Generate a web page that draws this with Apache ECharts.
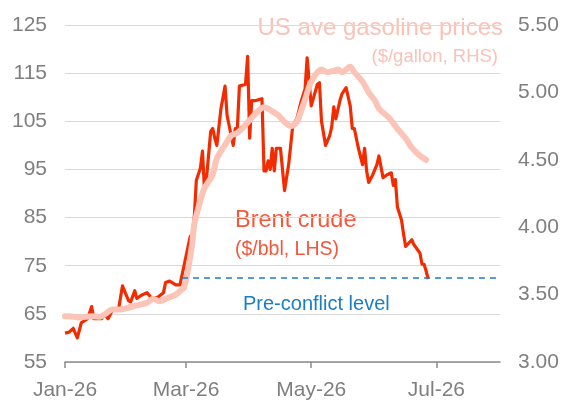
<!DOCTYPE html>
<html>
<head>
<meta charset="utf-8">
<script src="https://cdn.jsdelivr.net/npm/echarts@6/dist/echarts.min.js"></script>
<style>html,body{margin:0;padding:0;background:#fff;}#c{width:563px;height:401px;}</style>
</head>
<body>
<div id="c"></div>
<script>
// ---- data ----
const xTickDates = ['2026-01-01','2026-03-01','2026-05-01','2026-07-01'];
const xTickLabels = ['Jan-26','Mar-26','May-26','Jul-26'];
const leftTicks = [55,65,75,85,95,105,115,125];
const rightTicks = [3.00,3.50,4.00,4.50,5.00,5.50];

const brentDates = ['2026-01-01','2026-01-03','2026-01-05','2026-01-07','2026-01-09','2026-01-12','2026-01-14','2026-01-15','2026-01-19','2026-01-20',
 '2026-01-22','2026-01-24','2026-01-27','2026-01-29','2026-02-01','2026-02-02','2026-02-04','2026-02-05','2026-02-07','2026-02-10',
 '2026-02-12','2026-02-15','2026-02-18','2026-02-19','2026-02-21','2026-02-24','2026-02-26','2026-02-27','2026-03-01','2026-03-03',
 '2026-03-04','2026-03-05','2026-03-06','2026-03-08','2026-03-09','2026-03-10','2026-03-11','2026-03-13','2026-03-14','2026-03-15',
 '2026-03-16','2026-03-18','2026-03-20','2026-03-21','2026-03-23','2026-03-24','2026-03-25','2026-03-26','2026-03-27','2026-03-30',
 '2026-03-31','2026-04-01','2026-04-02','2026-04-04','2026-04-07','2026-04-08','2026-04-09','2026-04-10','2026-04-11','2026-04-12',
 '2026-04-13','2026-04-14','2026-04-16','2026-04-18','2026-04-20','2026-04-22','2026-04-24','2026-04-26','2026-04-28','2026-04-29',
 '2026-05-01','2026-05-04','2026-05-05','2026-05-06','2026-05-08','2026-05-10','2026-05-11','2026-05-12','2026-05-13','2026-05-15',
 '2026-05-16','2026-05-18','2026-05-20','2026-05-21','2026-05-22','2026-05-24','2026-05-26','2026-05-27','2026-05-28','2026-05-29',
 '2026-05-31','2026-06-02','2026-06-03','2026-06-05','2026-06-07','2026-06-09','2026-06-10','2026-06-11','2026-06-12','2026-06-14',
 '2026-06-15','2026-06-16','2026-06-19','2026-06-20','2026-06-23','2026-06-24','2026-06-25','2026-06-26','2026-06-27'];
const brentValues = [61,61.2,62,60,63.2,64,66.5,64,64,65,
 64,65.7,65.7,70.8,67.7,67.5,69.8,68.2,68.8,69.4,
 68.4,68.4,69.4,71.5,71.8,71,71,73,77,81,
 81.6,85,92.7,95.3,98.8,90.6,93.3,102.9,103.5,101.5,
 100,107.6,112.3,106.2,102,100,103.5,103.5,112.3,112.7,
 118.5,101.5,109.3,109.3,109.7,94.7,94.7,96.8,95,99.4,
 94.7,99.4,99.4,90.6,96,104.1,105.5,109,111.7,118.2,
 108.2,112.7,113,105,100,102,103.9,108,105.5,109.3,
 110.7,112,108.2,103.5,103.5,99.4,96,99.4,94.7,92.3,
 93.9,96,97.8,93.3,93.9,94.3,91.7,92.9,87.2,84.5,
 81.6,79,80.4,79.4,77.6,75.3,75.3,73.9,72.2];

const gasDates = ['2026-01-01','2026-01-03','2026-01-08','2026-01-14','2026-01-18','2026-01-21','2026-01-24','2026-01-28','2026-01-31','2026-02-05',
 '2026-02-10','2026-02-13','2026-02-16','2026-02-20','2026-02-24','2026-02-27','2026-02-28','2026-03-02','2026-03-04','2026-03-05',
 '2026-03-08','2026-03-10','2026-03-14','2026-03-16','2026-03-20','2026-03-23','2026-03-26','2026-03-30','2026-04-05','2026-04-08',
 '2026-04-12','2026-04-15','2026-04-18','2026-04-21','2026-04-24','2026-04-26','2026-04-28','2026-05-01','2026-05-06','2026-05-09',
 '2026-05-12','2026-05-14','2026-05-16','2026-05-20','2026-05-22','2026-05-26','2026-05-29','2026-06-01','2026-06-03','2026-06-08',
 '2026-06-12','2026-06-16','2026-06-19','2026-06-23','2026-06-26'];
const gasValues = [3.34,3.34,3.33,3.34,3.335,3.36,3.39,3.39,3.40,3.42,
 3.44,3.47,3.45,3.475,3.50,3.54,3.55,3.69,3.88,4.02,
 4.20,4.29,4.39,4.51,4.61,4.68,4.70,4.76,4.86,4.89,
 4.86,4.83,4.78,4.75,4.78,4.86,4.95,5.08,5.17,5.15,
 5.16,5.17,5.15,5.19,5.15,5.08,5.00,4.94,4.88,4.81,
 4.73,4.66,4.59,4.53,4.50];

const preConflictLevel = 72.6;
const preConflictStart = '2026-02-27';
const axisEnd = '2026-08-01';

// ---- daily category calendar ----
const categories = [];
(function(){
  const d = new Date(Date.UTC(2026,0,1));
  const end = Date.UTC(2026,7,1);
  while (d.getTime() <= end) {
    categories.push(d.toISOString().slice(0,10));
    d.setUTCDate(d.getUTCDate()+1);
  }
})();

const FONT = 'Liberation Sans, Arial, sans-serif';
const GREY = '#7f7f7f';

const chart = echarts.init(document.getElementById('c'), null, {renderer:'canvas'});
chart.setOption({
  animation: false,
  backgroundColor: '#fff',
  grid: {left: 65, right: 63, top: 25, bottom: 34, containLabel: false},
  xAxis: {
    type: 'category',
    data: categories,
    boundaryGap: false,
    axisLine: {lineStyle: {color: '#8c8c8c', width: 1.5}},
    axisTick: {show: true, length: 6, lineStyle: {color: '#8c8c8c', width: 1.5},
      interval: (i, v) => xTickDates.indexOf(v) >= 0},
    axisLabel: {show: true, fontSize: 21, color: GREY, fontFamily: FONT, margin: 18,
      interval: (i, v) => xTickDates.indexOf(v) >= 0,
      formatter: v => { const k = xTickDates.indexOf(v); return k >= 0 ? xTickLabels[k] : ''; }},
    splitLine: {show: false}
  },
  yAxis: [{
    type: 'value', position: 'left',
    min: leftTicks[0], max: leftTicks[leftTicks.length-1], interval: 10,
    axisLine: {show: false}, axisTick: {show: false},
    axisLabel: {fontSize: 21, color: GREY, fontFamily: FONT, margin: 18},
    splitLine: {lineStyle: {color: '#d9d9d9', width: 1.2}}
  }, {
    type: 'value', position: 'right',
    min: rightTicks[0], max: rightTicks[rightTicks.length-1], interval: 0.5,
    axisLine: {show: false}, axisTick: {show: false},
    axisLabel: {fontSize: 21, color: GREY, fontFamily: FONT, margin: 18,
      formatter: v => v.toFixed(2)},
    splitLine: {show: false}
  }],
  series: [{
    name: 'Brent crude', type: 'line', yAxisIndex: 0,
    data: brentDates.map((d, i) => [d, brentValues[i]]),
    showSymbol: false, symbol: 'none',
    lineStyle: {color: '#f22c00', width: 3.2, join: 'round'},
    z: 3,
    markLine: {
      silent: true, symbol: 'none', label: {show: false},
      lineStyle: {color: '#1a7dc8', width: 1.6, type: [6, 5]},
      data: [[{coord: [preConflictStart, preConflictLevel]}, {coord: [axisEnd, preConflictLevel]}]]
    }
  }, {
    name: 'US ave gasoline prices', type: 'line', yAxisIndex: 1,
    data: gasDates.map((d, i) => [d, gasValues[i]]),
    showSymbol: false, symbol: 'none', smooth: 0.3,
    lineStyle: {color: '#fcc3b7', width: 6, cap: 'round', join: 'round'},
    z: 4
  }],
  graphic: [
    {type: 'text', right: 60, top: 16, style: {text: 'US ave gasoline prices', fill: '#f9c2b6', font: '24px ' + FONT, textAlign: 'right'}},
    {type: 'text', right: 65, top: 47, style: {text: '($/gallon, RHS)', fill: '#f9c2b6', font: '18.5px ' + FONT, textAlign: 'right'}},
    {type: 'text', left: 235, top: 209, style: {text: 'Brent crude', fill: '#f4583c', font: '23.5px ' + FONT}},
    {type: 'text', left: 235, top: 240, style: {text: '($/bbl, LHS)', fill: '#f4583c', font: '19.5px ' + FONT}},
    {type: 'text', left: 243, top: 294, style: {text: 'Pre-conflict level', fill: '#1a7dc8', font: '20px ' + FONT}}
  ]
});
</script>
</body>
</html>
